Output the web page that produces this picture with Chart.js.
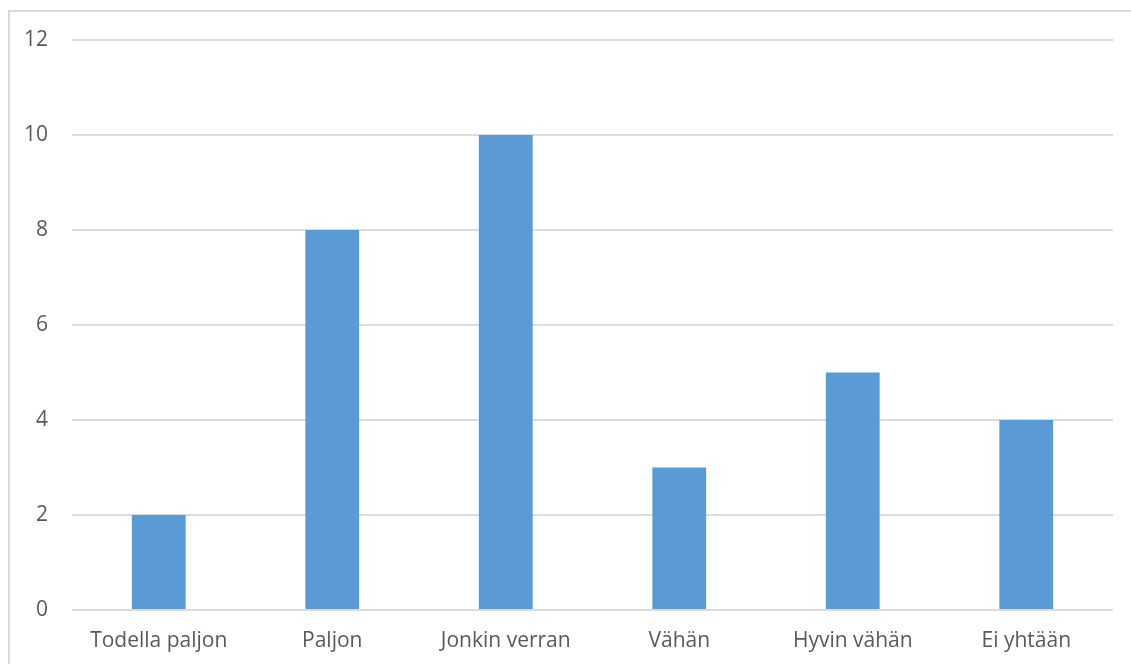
<!DOCTYPE html>
<html>
<head>
<meta charset="utf-8">
<script src="https://cdn.jsdelivr.net/npm/chart.js@4"></script>
<style>
  html, body { margin: 0; padding: 0; background: #fff; }
  #frame {
    position: absolute; left: 8px; top: 10px; width: 1130px; height: 700px;
    border-top: 2px solid #d9d9d9; border-left: 2px solid #d9d9d9;
  }
  #wrap { position: absolute; left: 0; top: 0; width: 1131px; height: 664px; }
</style>
</head>
<body>
<div id="frame"></div>
<div id="wrap"><canvas id="chart"></canvas></div>
<script>
const categories = ["Todella paljon", "Paljon", "Jonkin verran", "Vähän", "Hyvin vähän", "Ei yhtään"];
const counts = [2, 8, 10, 3, 5, 4];
const yTicks = [0, 2, 4, 6, 8, 10, 12];

const textColor = "#595959";
const fontFamily = "'Open Sans', sans-serif";

const chart = document.querySelector("#chart");

new Chart(chart, {
    type: 'bar',
    data: {
        labels: categories,
        datasets: [{
            data: counts,
            backgroundColor: "#5B9BD5",
            barPercentage: 0.31,
            categoryPercentage: 1
        }]
    },
    options: {
        responsive: true,
        maintainAspectRatio: false,
        animation: false,
        layout: {
            padding: { top: 40, right: 18, left: 0, bottom: 0 }
        },
        plugins: {
            legend: { display: false },
            tooltip: { enabled: false }
        },
        scales: {
            x: {
                grid: { display: false },
                border: { display: false },
                ticks: {
                    color: textColor,
                    padding: 10,
                    font: { family: fontFamily, size: 21 }
                },
                afterFit: (scale) => { scale.height = 54; }
            },
            y: {
                min: 0,
                max: 12,
                afterBuildTicks: (scale) => {
                    scale.ticks = yTicks.map(v => ({ value: v }));
                },
                grid: { color: "#dcdcdc", lineWidth: 2, drawTicks: false },
                border: { display: false },
                ticks: {
                    color: textColor,
                    padding: 24,
                    font: { family: fontFamily, size: 21 }
                },
                afterFit: (scale) => { scale.width = 72; }
            }
        }
    }
});
</script>
</body>
</html>
